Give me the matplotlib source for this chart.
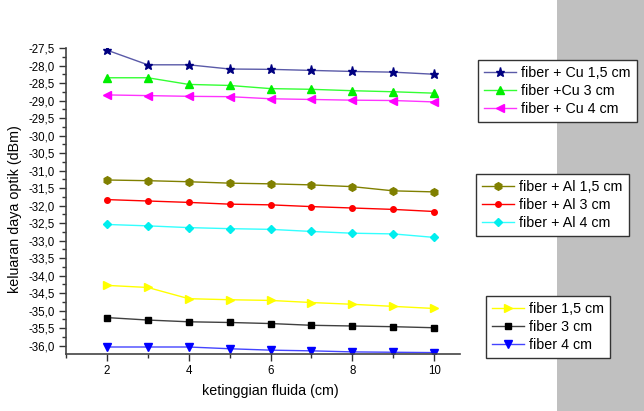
import matplotlib.pyplot as plt
from matplotlib.ticker import MultipleLocator, FuncFormatter
from matplotlib.patches import Rectangle

plt.rcParams['font.family'] = ['Liberation Sans', 'DejaVu Sans']

x = [2, 3, 4, 5, 6, 7, 8, 9, 10]

cu_15 = [-27.56, -27.98, -27.98, -28.10, -28.11, -28.14, -28.17, -28.19, -28.25]
cu_3 = [-28.35, -28.35, -28.54, -28.57, -28.66, -28.68, -28.72, -28.75, -28.79]
cu_4 = [-28.84, -28.86, -28.88, -28.89, -28.95, -28.97, -28.99, -29.00, -29.04]
al_15 = [-31.27, -31.29, -31.32, -31.36, -31.38, -31.41, -31.46, -31.58, -31.61]
al_3 = [-31.83, -31.87, -31.91, -31.96, -31.98, -32.03, -32.07, -32.11, -32.17]
al_4 = [-32.54, -32.58, -32.63, -32.66, -32.68, -32.74, -32.79, -32.81, -32.91]
f_15 = [-34.28, -34.34, -34.66, -34.69, -34.71, -34.77, -34.82, -34.88, -34.94]
f_3 = [-35.20, -35.27, -35.32, -35.34, -35.37, -35.42, -35.44, -35.46, -35.49]
f_4 = [-36.04, -36.04, -36.04, -36.09, -36.13, -36.15, -36.18, -36.19, -36.20]

fig = plt.figure(figsize=(6.44, 4.11), dpi=100)
fig.patches.append(Rectangle((557 / 644, 0), 1, 1, transform=fig.transFigure,
                             facecolor='#c0c0c0', edgecolor='none', zorder=0))
ax = fig.add_axes([66 / 644, 1 - 354 / 411, (460 - 66) / 644, (354 - 48) / 411])
ax.set_facecolor('none')

def line(y, lc, mc, marker, ms, label):
    h, = ax.plot(x, y, color=lc, lw=1, marker=marker, ms=ms, mfc=mc, mec=mc, label=label)
    return h

g1 = [line(cu_15, '#5a5aa8', '#000080', '*', 6.5, 'fiber + Cu 1,5 cm'),
      line(cu_3, '#33ff33', '#00ee00', '^', 5.5, 'fiber +Cu 3 cm'),
      line(cu_4, '#ff33ff', '#ff00ff', '<', 5.5, 'fiber + Cu 4 cm')]
g2 = [line(al_15, '#808000', '#808000', 'h', 5.5, 'fiber + Al 1,5 cm'),
      line(al_3, '#ff0000', '#ff0000', 'o', 4, 'fiber + Al 3 cm'),
      line(al_4, '#33ffff', '#00eeee', 'D', 4, 'fiber + Al 4 cm')]
g3 = [line(f_15, '#ffff00', '#ffff00', '>', 5.5, 'fiber 1,5 cm'),
      line(f_3, '#404040', '#000000', 's', 4, 'fiber 3 cm'),
      line(f_4, '#4444ff', '#0000ff', 'v', 5.5, 'fiber 4 cm')]

ax.set_xlim(1.0, 10.63)
ax.set_ylim(-36.24, -27.5)
ax.xaxis.set_major_locator(MultipleLocator(2))
ax.xaxis.set_minor_locator(MultipleLocator(1))
ax.yaxis.set_major_locator(MultipleLocator(0.5))
ax.yaxis.set_minor_locator(MultipleLocator(0.25))
ax.yaxis.set_major_formatter(FuncFormatter(lambda v, p: ('%.1f' % v).replace('.', ',')))
ax.tick_params(labelsize=8.3, length=5, width=1, color='#333333', pad=3)
ax.tick_params(which='minor', length=3, width=1, color='#333333')
for s in ['top', 'right']:
    ax.spines[s].set_visible(False)
for s in ['left', 'bottom']:
    ax.spines[s].set_color('#444444')
    ax.spines[s].set_linewidth(1.2)

ax.set_xlabel('ketinggian fluida (cm)', fontsize=10.3)
ax.set_ylabel('keluaran daya optik (dBm)', fontsize=10.3)
ax.xaxis.set_label_coords((270 - 66) / 394, -(391 - 354) / 306, transform=ax.transAxes)
ax.yaxis.set_label_coords(-(66 - 15) / 394, (354 - 209) / 306, transform=ax.transAxes)
ax.xaxis.label.set_va('center')
ax.yaxis.label.set_va('center')

def leg(handles, xy):
    l = fig.legend(handles=handles, loc='upper left', bbox_to_anchor=xy, fontsize=10.3,
                   frameon=True, fancybox=False, edgecolor='#333333', framealpha=1,
                   handlelength=2.2, handletextpad=0.35, borderpad=0.45, labelspacing=0.25,
                   borderaxespad=0)
    l.get_frame().set_linewidth(1)
    return l

leg(g1, (478 / 644, 1 - 60 / 411))
leg(g2, (476 / 644, 1 - 174 / 411))
leg(g3, (486 / 644, 1 - 296 / 411))

fig.savefig('out.png', dpi=100)
